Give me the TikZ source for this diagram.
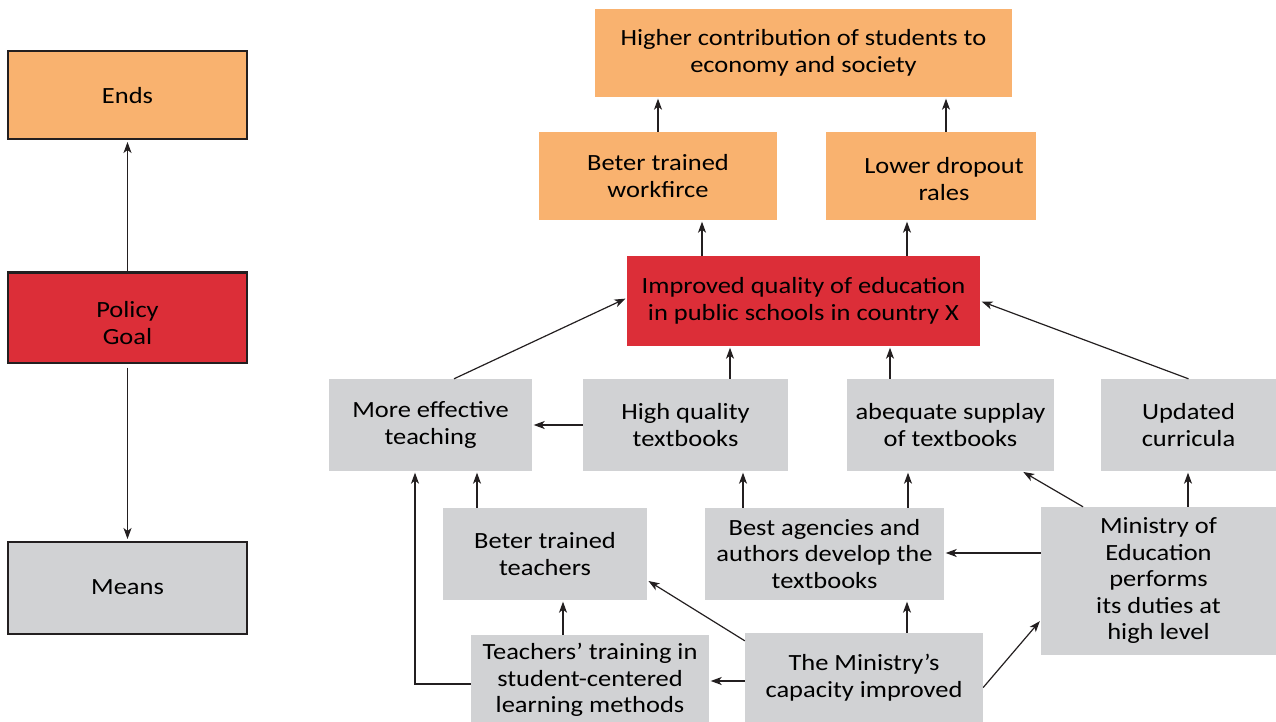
\documentclass[tikz,border=0pt]{standalone}
\usepackage{fontspec}
\setmainfont{Carlito}[FakeStretch=1.14]
\usetikzlibrary{arrows.meta,calc}
\definecolor{endsc}{RGB}{249,178,111}
\definecolor{goalc}{RGB}{220,46,56}
\definecolor{meansc}{RGB}{209,210,212}
\definecolor{linec}{RGB}{35,31,32}
\begin{document}
\begin{tikzpicture}[x=1bp,y=-1bp,
  box/.style={align=center,inner sep=2bp,font=\fontsize{23.3}{26.6}\selectfont,text=black},
  legend/.style={box,draw=linec,line width=2bp},
  arr/.style={draw=linec,line width=1.2bp,-{Stealth[length=11bp,width=8bp,inset=3bp]},shorten >=1.5bp}]
\useasboundingbox (0,0) rectangle (1276,722);
% legend column
\node[legend,fill=endsc,minimum width=238bp,minimum height=88bp] (ends) at (127.5,95.5) {Ends};
\node[legend,fill=goalc,minimum width=238bp,minimum height=90bp] (goalL) at (127.5,317.5) {\rule{0pt}{27bp}Policy\\Goal};
\node[legend,fill=meansc,minimum width=238bp,minimum height=92bp] (means) at (127.5,587.5) {Means};
\draw[arr] (goalL.north) -- (ends.south);
\draw[arr] ([yshift=-4bp]goalL.south) -- (means.north);
% main diagram
\node[box,fill=endsc,minimum width=417bp,minimum height=88bp] (higher) at (803.5,53) {Higher contribution of students to\\economy and society};
\node[box,fill=endsc,minimum width=238bp,minimum height=88bp] (workf) at (658,176) {Beter trained\\workfirce};
\node[box,fill=endsc,minimum width=210bp,minimum height=88bp] (drop) at (931,176) {\hspace*{26bp}\rule{0pt}{22bp}Lower dropout\\\hspace*{26bp}rales};
\node[box,fill=goalc,minimum width=353bp,minimum height=90bp] (impr) at (803.5,301) {Improved quality of education\\in public schools in country X};
\node[box,fill=meansc,minimum width=203bp,minimum height=92bp] (moreeff) at (430.5,425) {More effective\\teaching};
\node[box,fill=meansc,minimum width=205bp,minimum height=92bp] (hq) at (685.5,425) {High quality\\textbooks};
\node[box,fill=meansc,minimum width=207bp,minimum height=92bp] (adeq) at (950.5,425) {abequate supplay\\of textbooks};
\node[box,fill=meansc,minimum width=175bp,minimum height=92bp] (upd) at (1188.5,425) {Updated\\curricula};
\node[box,fill=meansc,minimum width=204bp,minimum height=92bp] (btt) at (545,554) {Beter trained\\teachers};
\node[box,fill=meansc,minimum width=239bp,minimum height=92bp] (best) at (824.5,554) {Best agencies and\\authors develop the\\textbooks};
\node[box,fill=meansc,minimum width=235bp,minimum height=148bp] (moe) at (1158.5,581) {Ministry of\\Education\\performs\\its duties at\\high level};
\node[box,fill=meansc,minimum width=238bp,minimum height=90bp] (ttr) at (590,680) {Teachers’ training in\\student-centered\\learning methods};
\node[box,fill=meansc,minimum width=238bp,minimum height=89bp] (cap) at (864,677.5) {The Ministry’s\\capacity improved};
% connectors
\draw[arr] (workf.north -| 658,0) -- (higher.south -| 658,0);
\draw[arr] (drop.north -| 946,0) -- (higher.south -| 946,0);
\draw[arr] (impr.north -| 702,0) -- (workf.south -| 702,0);
\draw[arr] (impr.north -| 907,0) -- (drop.south -| 907,0);
\draw[arr] (moreeff.north -| 454,0) -- ([yshift=3bp]impr.west);
\draw[arr] (hq.north -| 730,0) -- (impr.south -| 730,0);
\draw[arr] (adeq.north -| 890,0) -- (impr.south -| 890,0);
\draw[arr] (upd.north) -- (impr.east);
\draw[arr] (hq.west) -- (moreeff.east);
\draw[arr] (btt.north -| 477,0) -- (moreeff.south -| 477,0);
\draw[arr] (ttr.west |- 0,684) -| (moreeff.south -| 415,0);
\draw[arr] (ttr.north -| 563,0) -- (btt.south -| 563,0);
\draw[arr] (cap.west |- 0,681) -- (ttr.east |- 0,681);
\draw[arr] ([yshift=-8bp]cap.north west) -- ([yshift=20bp]btt.south east);
\draw[arr] (cap.north -| 907,0) -- (best.south -| 907,0);
\draw[arr] ([yshift=-10bp]cap.east) -- ([yshift=-39bp]moe.west);
\draw[arr] (best.north -| 743,0) -- (hq.south -| 743,0);
\draw[arr] (best.north -| 908,0) -- (adeq.south -| 908,0);
\draw[arr] (moe.west |- 0,553) -- (best.east |- 0,553);
\draw[arr] (moe.north -| 1083,0) -- (adeq.south -| 1022,0);
\draw[arr] (moe.north -| 1188,0) -- (upd.south -| 1188,0);
\end{tikzpicture}
\end{document}
